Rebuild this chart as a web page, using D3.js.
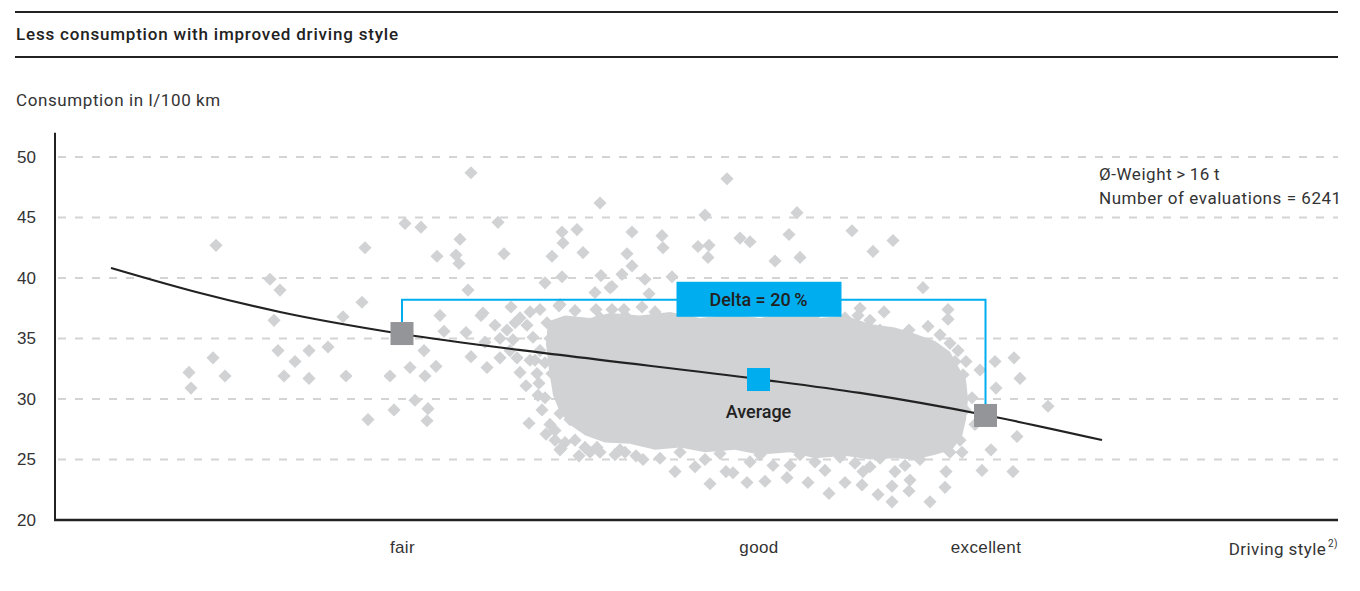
<!DOCTYPE html>
<html>
<head>
<meta charset="utf-8">
<script src="https://cdn.jsdelivr.net/npm/d3@7"></script>
<style>
  body { margin: 0; background: #fff; }
  svg { display: block; font-family: Roboto, "Liberation Sans", sans-serif; }
</style>
</head>
<body>
<script>
// values: driving style score (x) vs consumption in l/100 km (y)
const title = "Less consumption with improved driving style"
const yLabel = "Consumption in l/100 km"
const yTicks = [20, 25, 30, 35, 40, 45, 50]
const styleNames = ["fair", "good", "excellent"]
const styleScores = [34.7, 70.35, 93.05]
const notes = ["Ø-Weight\u2009>\u200916\u2009t", "Number of evaluations = 6241"]

// single evaluations outside the dense cloud
const evaluations = [
  [16.1,42.7],[31.0,42.5],[35.0,44.5],[36.6,44.2],[38.2,41.8],[21.5,39.9],[22.5,39.0],[30.7,38.0],
  [28.8,36.8],[21.9,36.5],[38.5,36.9],[38.9,35.6],[15.8,33.4],[22.3,34.0],[24.0,33.1],[25.4,34.0],
  [27.3,34.3],[36.9,34.0],[13.4,32.2],[13.6,30.9],[17.0,31.9],[22.9,31.9],[25.4,31.7],[29.1,31.9],
  [33.5,31.9],[35.5,32.6],[37.0,31.9],[38.1,32.7],[36.0,29.9],[33.9,29.1],[37.3,29.2],[31.3,28.3],
  [37.2,28.2],[41.6,48.7],[54.5,46.2],[44.3,44.6],[40.5,43.2],[50.7,43.8],[52.2,44.0],[50.8,42.9],
  [57.7,43.8],[60.7,43.5],[40.1,41.9],[40.4,41.2],[44.9,42.0],[49.7,41.8],[52.8,42.1],[57.2,42.0],
  [60.8,42.5],[57.7,41.0],[56.7,40.3],[54.6,40.2],[50.7,40.1],[49.0,39.6],[59.0,39.9],[61.7,40.1],
  [41.3,39.0],[55.5,39.2],[54.0,38.8],[59.4,38.7],[45.6,37.6],[50.4,37.7],[48.5,37.4],[47.5,37.2],
  [54.1,37.4],[56.9,37.4],[42.6,36.9],[58.7,37.6],[41.1,35.5],[45.2,35.7],[41.6,33.5],[44.5,33.4],
  [43.2,32.6],[47.1,31.1],[48.4,31.3],[49.0,30.1],[47.4,28.0],[49.1,27.1],[50.6,25.9],[52.4,25.3],
  [54.2,26.0],[58.1,25.3],[67.2,48.2],[65.0,45.2],[74.2,45.4],[73.4,43.6],[79.7,43.9],[68.5,43.3],
  [69.5,43.0],[64.3,42.6],[65.4,42.7],[65.3,41.7],[72.0,41.4],[74.5,41.7],[65.5,23.0],[64.0,24.4],
  [67.1,24.0],[69.2,23.1],[71.0,23.2],[73.2,23.5],[75.3,23.1],[77.4,22.2],[79.0,23.1],[77.0,24.1],
  [71.8,24.5],[62.0,24.0],[58.8,25.0],[81.8,42.2],[83.8,43.1],[86.8,39.2],[80.5,37.5],[82.9,37.2],
  [89.3,37.4],[89.3,36.6],[87.3,36.0],[85.4,35.7],[81.5,36.5],[89.5,34.6],[91.1,33.1],[94.0,33.1],
  [95.9,33.4],[96.5,31.7],[94.1,30.9],[92.5,32.4],[99.3,29.4],[96.2,26.9],[93.6,25.8],[95.8,24.0],
  [92.7,24.1],[89.1,24.0],[89.0,22.7],[87.5,21.5],[85.5,23.3],[85.4,22.4],[83.7,22.8],[83.7,21.5],
  [82.3,22.1],[80.7,22.9],[84.0,24.0],[80.8,24.0],[42.8,37.1],[46.0,36.3],[47.2,36.1],[49.2,36.3],
  [44.5,35.0],[45.8,34.9],[47.8,35.1],[49.5,35.0],[50.3,34.6],[43.0,34.7],[46.2,33.4],[47.5,33.2],
  [49.0,33.0],[48.2,32.1],[49.7,32.1],[50.7,30.7],[50.5,28.8],[55.7,39.3],[67.8,23.9],[81.5,24.4],
  [73.5,24.5],[50.5,25.8],
  // edge of the dense cloud
  [54.5,36.7],[57.0,36.9],[60.0,36.7],[63.5,37.0],[68.5,36.9],[72.0,37.0],[76.0,36.9],[79.0,36.7],
  [90.5,31.2],[91.0,29.1],[90.5,26.6],[89.5,25.6],[86.5,25.0],[82.5,25.1],[78.5,25.2],[74.5,25.4],
  [70.5,25.4],[66.5,25.5],[62.5,25.6],[56.5,25.8],[52.0,26.6],[51.5,28.3],[52.0,29.9],[51.5,33.6],
  [52.0,35.3],[53.5,36.1],[52.0,37.3],[55.7,37.4],[60.0,37.2],[80.3,36.9],[78.0,37.4],[88.5,35.3],
  [90.3,34.0],[91.7,30.1],[92.0,27.9],[90.7,25.6],[85.0,24.5],[80.0,24.7],[76.0,24.8],[69.5,24.8],
  [65.0,25.0],[60.5,25.1],[56.0,25.4],[53.5,25.6],[48.5,34.0],[48.3,30.3],[48.7,29.1],[49.5,27.9],
  [50.0,26.6],[48.0,33.2],[46.5,32.2],[45.5,34.0],[44.0,36.1],[50.5,37.8],[46.5,36.7],[50.0,27.4],
  [51.0,26.4],[53.0,26.0],[54.5,25.6],[57.0,25.6],[82.5,35.7],[84.5,35.1],[86.3,34.5],[88.3,33.9],
  [90.0,33.1],[90.8,32.0]
]

// outline of the dense cloud where the diamonds merge into one area
const denseCore = [
  [49.3,36.4],[51.0,36.9],[53.5,36.7],[55.5,37.1],[58.5,36.9],[61.5,37.2],[64.5,36.7],[67.5,37.0],
  [70.5,36.7],[73.5,37.1],[76.5,36.7],[79.0,36.9],[81.5,36.2],[84.0,35.9],[86.0,35.4],[88.0,34.8],
  [89.5,33.9],[90.3,32.7],[91.1,31.6],[91.3,30.0],[91.1,28.3],[90.7,26.9],[89.7,25.8],[88.0,25.4],
  [86.0,25.0],[84.0,25.1],[81.5,25.0],[79.0,25.3],[76.0,25.1],[73.5,25.6],[70.5,25.4],[68.0,25.8],
  [65.0,25.6],[62.5,26.0],[60.0,25.8],[57.5,26.3],[55.0,26.4],[53.0,27.0],[51.6,27.8],[50.5,28.9],
  [49.8,30.3],[49.4,32.4],[49.1,34.5]
]

// regression curve
const trendScore = [5.6, 14.5, 22.5, 34.7, 50.5, 70.3, 80.5, 93.0, 104.7]
const trendConsumption = [40.83, 38.76, 37.19, 35.37, 33.64, 31.65, 30.5, 28.68, 26.61]

// fair / average / excellent markers
const markerScore = [34.7, 70.35, 93.05]
const markerConsumption = [35.41, 31.61, 28.64]
const deltaLabel = "Delta = 20\u2009%"
const deltaLevel = 38.2

const W = 1360, H = 591
const grey = "#d1d2d4", blue = "#00aeef", dark = "#222"

const svg = d3.select("body").append("svg").attr("width", W).attr("height", H)

const x = d3.scaleLinear().domain([0, 128.3]).range([55, 1338])
const y = d3.scaleLinear().domain([20, 52]).range([520, 132.8])

// header
svg.append("line").attr("x1", 15).attr("x2", 1338).attr("y1", 12).attr("y2", 12)
    .attr("stroke", dark).attr("stroke-width", 2)
svg.append("text").attr("x", 16).attr("y", 40).text(title)
    .attr("font-size", 17).attr("letter-spacing", 0.8).attr("font-weight", 500).attr("fill", dark)
svg.append("line").attr("x1", 15).attr("x2", 1338).attr("y1", 57).attr("y2", 57)
    .attr("stroke", dark).attr("stroke-width", 2)
svg.append("text").attr("x", 16).attr("y", 106).text(yLabel)
    .attr("font-size", 17).attr("letter-spacing", 0.6).attr("fill", "#333")

// gridlines
svg.append("g").selectAll("line")
    .data(yTicks.filter(d => d > 20))
    .join("line")
    .attr("x1", 58).attr("x2", 1338)
    .attr("y1", d => y(d)).attr("y2", d => y(d))
    .attr("stroke", "#d4d4d4").attr("stroke-width", 2).attr("stroke-dasharray", "8,9")

// notes
svg.append("g").selectAll("text")
    .data(notes)
    .join("text")
    .attr("x", 1099).attr("y", (d, i) => 180 + i * 24)
    .attr("font-size", 17).attr("letter-spacing", 0.55).attr("fill", "#333")
    .text(d => d)

// scatter
svg.append("path")
    .datum(denseCore)
    .attr("d", d3.line().x(d => x(d[0])).y(d => y(d[1])).curve(d3.curveLinearClosed))
    .attr("fill", grey)

const diamond = d3.symbol().type(d3.symbolSquare).size(86)
svg.append("g").selectAll("path")
    .data(evaluations)
    .join("path")
    .attr("d", diamond)
    .attr("transform", d => `translate(${x(d[0])},${y(d[1])}) rotate(45)`)
    .attr("fill", grey)

// axes
const yAxis = d3.axisLeft(y).tickValues(yTicks).tickSize(0).tickPadding(19)
svg.append("g").attr("transform", "translate(55,0)").call(yAxis)
    .call(g => g.select(".domain").remove())
    .call(g => g.selectAll("text").attr("font-size", 17).attr("fill", "#333").attr("font-family", null))

const xAxis = d3.axisBottom(x).tickValues(styleScores).tickSize(0).tickPadding(21)
    .tickFormat((d, i) => styleNames[i])
svg.append("g").attr("transform", "translate(0,520)").call(xAxis)
    .call(g => g.select(".domain").remove())
    .call(g => g.selectAll("text").attr("font-size", 17).attr("letter-spacing", 0.4)
        .attr("fill", "#333").attr("font-family", null))

svg.append("line").attr("x1", 55).attr("x2", 55).attr("y1", y(52)).attr("y2", 521)
    .attr("stroke", dark).attr("stroke-width", 2)
svg.append("line").attr("x1", 54).attr("x2", 1338).attr("y1", 520).attr("y2", 520)
    .attr("stroke", dark).attr("stroke-width", 2.5)

const xt = svg.append("text").attr("x", 1338).attr("y", 555).attr("text-anchor", "end")
    .attr("font-size", 17).attr("letter-spacing", 0.4).attr("fill", "#333")
xt.append("tspan").text("Driving style")
xt.append("tspan").attr("dx", 2).attr("dy", -8).attr("font-size", 10).text("2)")

// trend line
const trend = trendScore.map((d, i) => [d, trendConsumption[i]])
svg.append("path")
    .datum(trend)
    .attr("d", d3.line().x(d => x(d[0])).y(d => y(d[1])).curve(d3.curveMonotoneX))
    .attr("fill", "none").attr("stroke", dark).attr("stroke-width", 2.2)

// delta bracket
const fair = [markerScore[0], markerConsumption[0]]
const avg = [markerScore[1], markerConsumption[1]]
const exc = [markerScore[2], markerConsumption[2]]
const sq = 23
svg.append("path")
    .attr("d", `M${x(fair[0])},${y(fair[1]) - sq / 2}V${y(deltaLevel)}H${x(exc[0])}V${y(exc[1]) - sq / 2}`)
    .attr("fill", "none").attr("stroke", blue).attr("stroke-width", 2)

svg.append("g").selectAll("rect")
    .data([fair, exc])
    .join("rect")
    .attr("x", d => x(d[0]) - sq / 2).attr("y", d => y(d[1]) - sq / 2)
    .attr("width", sq).attr("height", sq)
    .attr("fill", "#939598")

svg.append("rect")
    .attr("x", x(avg[0]) - sq / 2).attr("y", y(avg[1]) - sq / 2)
    .attr("width", sq).attr("height", sq).attr("fill", blue)

svg.append("text").attr("x", x(avg[0])).attr("y", y(avg[1]) + 38)
    .attr("text-anchor", "middle").attr("font-size", 18).attr("font-weight", 500).attr("fill", dark)
    .text("Average")

svg.append("rect")
    .attr("x", x(avg[0]) - 82).attr("y", y(deltaLevel) - 18)
    .attr("width", 165).attr("height", 35).attr("fill", blue)
svg.append("text").attr("x", x(avg[0])).attr("y", y(deltaLevel) + 6.5)
    .attr("text-anchor", "middle").attr("font-size", 18).attr("font-weight", 500).attr("fill", dark)
    .text(deltaLabel)
</script>
</body>
</html>
